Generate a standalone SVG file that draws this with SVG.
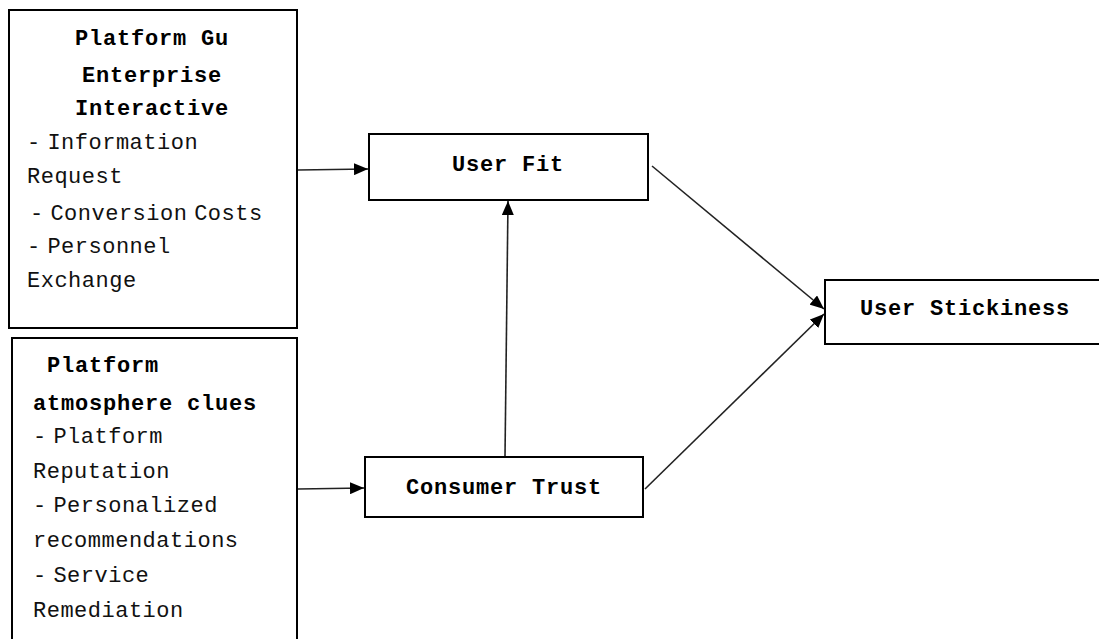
<svg xmlns="http://www.w3.org/2000/svg" width="1099" height="639" viewBox="0 0 1099 639">
<style>
.box{fill:#fff;stroke:#000;stroke-width:2}
.t{font-family:"Liberation Mono","DejaVu Sans Mono",monospace;font-size:22px;letter-spacing:0.5px;fill:#111}
.d{word-spacing:-7px}
.b{font-weight:bold;letter-spacing:0.8px;fill:#000}
.c{text-anchor:middle}
.edge{stroke:#222;stroke-width:1.6;fill:none;marker-end:url(#arr)}
</style>
<defs>
<marker id="arr" viewBox="0 0 14 12" refX="14" refY="6" markerWidth="14" markerHeight="12" markerUnits="userSpaceOnUse" orient="auto">
<path d="M0,0 L14,6 L0,12 Z" fill="#000"/>
</marker>
</defs>
<rect width="1099" height="639" fill="#fff"/>
<g id="connectors">
<line class="edge" x1="298" y1="170" x2="368" y2="169"/>
<line class="edge" x1="298" y1="489" x2="364" y2="488"/>
<line class="edge" x1="505" y1="457" x2="508" y2="201"/>
<line class="edge" x1="652" y1="166" x2="824" y2="309"/>
<line class="edge" x1="645" y1="489" x2="824" y2="314"/>
</g>
<g id="node-interactive">
<rect class="box" x="9" y="10" width="288" height="318"/>
<text class="t b c" x="152" y="45">Platform Gu</text>
<text class="t b c" x="152" y="82">Enterprise</text>
<text class="t b c" x="152" y="115">Interactive</text>
<text class="t d" x="27" y="149">- Information</text>
<text class="t" x="27" y="183">Request</text>
<text class="t d" x="30" y="220">- Conversion Costs</text>
<text class="t d" x="27" y="253">- Personnel</text>
<text class="t" x="27" y="287">Exchange</text>
</g>
<g id="node-atmosphere">
<rect class="box" x="12" y="338" width="285" height="330"/>
<text class="t b" x="47" y="372">Platform</text>
<text class="t b" x="33" y="410">atmosphere clues</text>
<text class="t d" x="33" y="443">- Platform</text>
<text class="t" x="33" y="478">Reputation</text>
<text class="t d" x="33" y="512">- Personalized</text>
<text class="t" x="33" y="547">recommendations</text>
<text class="t d" x="33" y="582">- Service</text>
<text class="t" x="33" y="617">Remediation</text>
</g>
<g id="node-userfit">
<rect class="box" x="369" y="134" width="279" height="66"/>
<text class="t b c" x="508" y="171">User Fit</text>
</g>
<g id="node-trust">
<rect class="box" x="365" y="457" width="278" height="60"/>
<text class="t b c" x="504" y="494">Consumer Trust</text>
</g>
<g id="node-stickiness">
<rect class="box" x="825" y="280" width="290" height="64"/>
<text class="t b c" x="965" y="315">User Stickiness</text>
</g>
</svg>
